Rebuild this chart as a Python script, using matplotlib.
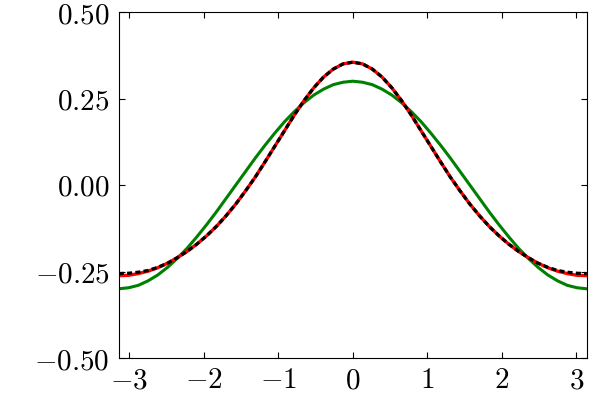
import numpy as np
import matplotlib
matplotlib.use("Agg")
import matplotlib.pyplot as plt

# values at x = -pi ... pi in steps of pi/24
X_STEPS = 49
RED = [-0.262, -0.261, -0.256, -0.249, -0.239, -0.226, -0.210, -0.192, -0.171,
       -0.147, -0.120, -0.089, -0.055, -0.017, 0.023, 0.067, 0.112, 0.157,
       0.202, 0.244, 0.281, 0.312, 0.335, 0.350, 0.355, 0.350, 0.335, 0.312,
       0.281, 0.244, 0.202, 0.157, 0.112, 0.067, 0.023, -0.017, -0.055, -0.089,
       -0.120, -0.147, -0.171, -0.192, -0.210, -0.226, -0.239, -0.249, -0.256,
       -0.261, -0.262]
BLACK = [-0.256, -0.255, -0.252, -0.247, -0.238, -0.226, -0.210, -0.192, -0.171,
         -0.147, -0.120, -0.089, -0.055, -0.017, 0.023, 0.067, 0.112, 0.157,
         0.202, 0.244, 0.281, 0.312, 0.335, 0.350, 0.355, 0.350, 0.335, 0.312,
         0.281, 0.244, 0.202, 0.157, 0.112, 0.067, 0.023, -0.017, -0.055, -0.089,
         -0.120, -0.147, -0.171, -0.192, -0.210, -0.226, -0.238, -0.247, -0.252,
         -0.255, -0.256]
GREEN = [-0.300, -0.297, -0.290, -0.277, -0.260, -0.238, -0.212, -0.183, -0.150,
         -0.115, -0.078, -0.039, 0.000, 0.039, 0.078, 0.115, 0.150, 0.183,
         0.212, 0.238, 0.260, 0.277, 0.290, 0.297, 0.300, 0.297, 0.290, 0.277,
         0.260, 0.238, 0.212, 0.183, 0.150, 0.115, 0.078, 0.039, 0.000, -0.039,
         -0.078, -0.115, -0.150, -0.183, -0.212, -0.238, -0.260, -0.277, -0.290,
         -0.297, -0.300]

XTICKS = [-3, -2, -1, 0, 1, 2, 3]
YTICKS = [-0.5, -0.25, 0.0, 0.25, 0.5]

plt.rcParams['mathtext.fontset'] = 'cm'
plt.rcParams['font.family'] = 'serif'


def plotCurves():
    x = np.linspace(-np.pi, np.pi, X_STEPS)
    fig = plt.figure(figsize=(6, 4), dpi=100)
    ax = fig.add_axes([0.198, 0.105, 0.78, 0.865])

    ax.plot(x, GREEN, color="green", lw=2.2)
    ax.plot(x, RED, color="red", lw=2.4)
    ax.plot(x, BLACK, color="black", lw=2.3, dashes=(1.6, 1.0))

    ax.set_xlim(-np.pi, np.pi)
    ax.set_ylim(-0.5, 0.5)
    ax.set_xticks(XTICKS)
    ax.set_yticks(YTICKS)
    ax.set_xticklabels(["$%d$" % t for t in XTICKS])
    ax.set_yticklabels(["$%.2f$" % t for t in YTICKS])
    ax.tick_params(direction="in", top=True, right=True, length=4, width=0.8,
                   labelsize=21)
    ax.tick_params(axis="y", pad=6.5)
    ax.tick_params(axis="x", pad=6)
    for s in ax.spines.values():
        s.set_linewidth(0.8)

    fig.savefig("out.png", dpi=100)


def main():
    plotCurves()

if __name__ == "__main__":
    main()
